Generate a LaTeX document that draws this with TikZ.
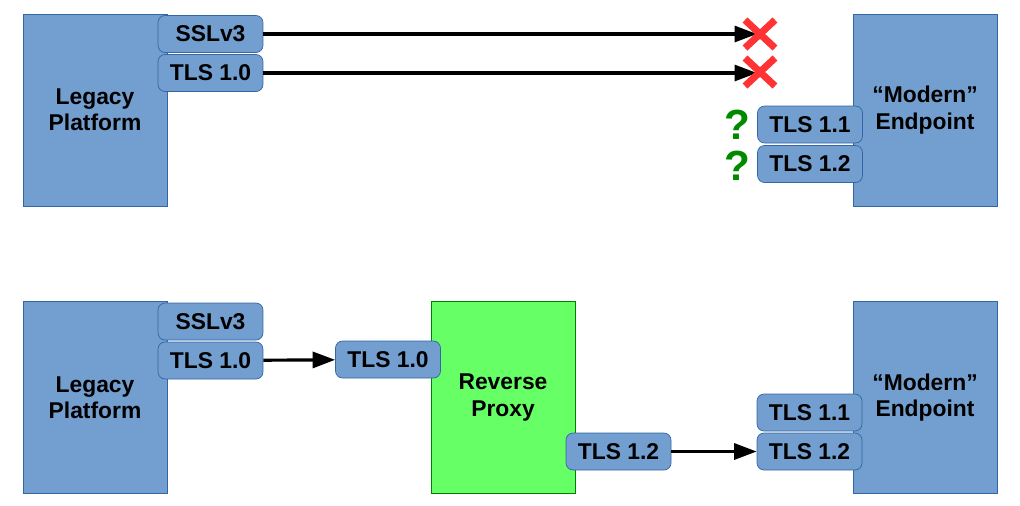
\documentclass[tikz,border=0pt]{standalone}
\usepackage{fontspec}
\setmainfont{Liberation Sans}
\usetikzlibrary{arrows.meta}
\definecolor{boxblue}{HTML}{729FCF}
\definecolor{lineblue}{HTML}{3465A4}
\definecolor{proxygreen}{HTML}{66FF66}
\definecolor{qgreen}{HTML}{008A00}
\definecolor{xred}{HTML}{FF3333}
\tikzset{
  host/.style={draw=lineblue, fill=boxblue, minimum width=2.88cm, minimum height=3.84cm,
    align=center, font=\bfseries\fontsize{13}{15}\selectfont},
  proxy/.style={host, draw=green!50!black, fill=proxygreen},
  proto/.style={draw=lineblue, fill=boxblue, rounded corners=4pt, minimum width=2.1cm,
    minimum height=0.74cm, font=\bfseries\fontsize{13}{15}\selectfont},
  link/.style={-{Stealth[length=4.5mm,width=3.2mm,inset=0pt]}, line width=1.8pt},
  fail/.style={xred, line width=4pt},
  ask/.style={qgreen, font=\bfseries\fontsize{24}{26}\selectfont}
}
\begin{document}
\begin{tikzpicture}[x=0.02cm, y=-0.02cm]
\useasboundingbox (0,0) rectangle (1020,505);

% Oben: direkte Verbindung
\node[host] (legA) at (95,110) {Legacy\\Platform};
\node[host] (modA) at (925,110) {``Modern''\\Endpoint};
\node[proto] (sslA) at (210.5,34) {SSLv3};
\node[proto] (tlsA) at (210.5,73) {TLS 1.0};
\node[proto] (t11A) at (810,124.5) {TLS 1.1};
\node[proto] (t12A) at (810,164) {TLS 1.2};
\coordinate (endS) at (757,34);
\coordinate (endT) at (757,73);
\draw[link] (sslA) -- (endS);
\draw[link] (tlsA) -- (endT);
\foreach \y in {34,72} {
  \draw[fail] (745,\y-14) -- (775,\y+14);
  \draw[fail] (745,\y+14) -- (775,\y-14);
}
\node[ask] (q1) at (737,125) {?};
\node[ask] (q2) at (737,166) {?};

% Unten: mit Reverse Proxy
\node[host] (legB) at (95,397.5) {Legacy\\Platform};
\node[proxy] (prx) at (503,397.5) {Reverse\\Proxy};
\node[host] (modB) at (925,397.5) {``Modern''\\Endpoint};
\node[proto] (sslB) at (210.5,321.5) {SSLv3};
\node[proto] (tlsB) at (210.5,360.5) {TLS 1.0};
\node[proto] (inB) at (388,359.5) {TLS 1.0};
\node[proto] (outB) at (618.5,451.5) {TLS 1.2};
\node[proto] (t11B) at (809.5,412.5) {TLS 1.1};
\node[proto] (t12B) at (809.5,451.5) {TLS 1.2};
\draw[link] (tlsB) -- (inB);
\draw[link] (outB) -- (t12B);
\end{tikzpicture}
\end{document}
